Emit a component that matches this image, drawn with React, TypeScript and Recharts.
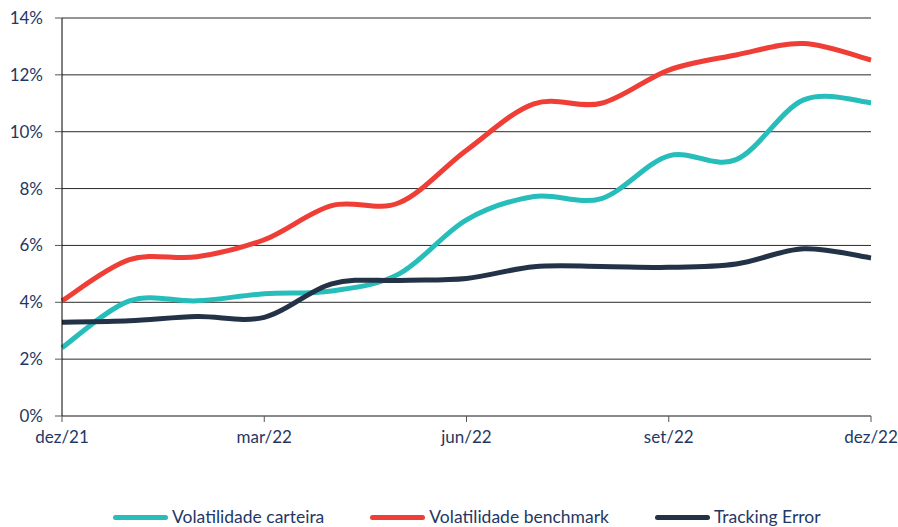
import React from 'react';
import { LineChart, Line, XAxis, YAxis, CartesianGrid, Legend } from 'recharts';

const months = ['dez/21', 'jan/22', 'fev/22', 'mar/22', 'abr/22', 'mai/22', 'jun/22', 'jul/22', 'ago/22', 'set/22', 'out/22', 'nov/22', 'dez/22'];
const volCarteira = [2.4, 4.05, 4.05, 4.3, 4.4, 5.0, 6.9, 7.72, 7.65, 9.15, 9.02, 11.12, 11.02];
const volBenchmark = [4.05, 5.5, 5.6, 6.2, 7.4, 7.5, 9.35, 10.98, 11.0, 12.17, 12.7, 13.1, 12.52];
const trackingError = [3.3, 3.35, 3.5, 3.47, 4.65, 4.77, 4.84, 5.25, 5.26, 5.23, 5.35, 5.88, 5.56];
const yTicks = [0, 2, 4, 6, 8, 10, 12, 14];

const seriesNames = ['Volatilidade carteira', 'Volatilidade benchmark', 'Tracking Error'];
const colors = ['#27bdbb', '#ef3e36', '#233246'];

const data = months.map((m, i) => ({
  month: m,
  carteira: volCarteira[i],
  benchmark: volBenchmark[i],
  te: trackingError[i],
}));

// Catmull-Rom style smoothing (like spreadsheet "smoothed line")
const smoothCurve = (context: any) => {
  let pts: [number, number][] = [];
  return {
    areaStart() {},
    areaEnd() {},
    lineStart() { pts = []; },
    point(x: number, y: number) { pts.push([+x, +y]); },
    lineEnd() {
      const n = pts.length;
      if (!n) return;
      context.moveTo(pts[0][0], pts[0][1]);
      for (let i = 0; i < n - 1; i++) {
        const p0 = pts[i - 1] || pts[i];
        const p1 = pts[i];
        const p2 = pts[i + 1];
        const p3 = pts[i + 2] || p2;
        const c1x = p1[0] + (p2[0] - p0[0]) / 6;
        const c1y = p1[1] + (p2[1] - p0[1]) / 6;
        const c2x = p2[0] - (p3[0] - p1[0]) / 6;
        const c2y = p2[1] - (p3[1] - p1[1]) / 6;
        context.bezierCurveTo(c1x, c1y, c2x, c2y, p2[0], p2[1]);
      }
    },
  };
};

const FONT = 'Lato, "Open Sans", sans-serif';
const TEXT = '#1f3864';

const LegendContent = () => (
  <div style={{ display: 'flex', justifyContent: 'flex-start', paddingLeft: 113, fontFamily: FONT, fontSize: 17.5, color: TEXT, lineHeight: '22px' }}>
    {seriesNames.map((n, i) => (
      <div key={n} style={{ display: 'flex', alignItems: 'center', marginLeft: i === 0 ? 0 : 46 }}>
        <div style={{ width: 55, height: 5, borderRadius: 3, background: colors[i], marginRight: 4 }} />
        <span>{n}</span>
      </div>
    ))}
  </div>
);

export default function App() {
  return (
    <div style={{ position: 'absolute', left: 0, top: 0, width: 898, height: 527, background: '#fff' }}>
      <LineChart width={898} height={527} data={data} margin={{ top: 18, right: 27, left: 0, bottom: 59 }}>
        <CartesianGrid vertical={false} stroke="#2a2a2a" strokeWidth={1} />
        <XAxis
          dataKey="month"
          interval={2}
          height={30}
          axisLine={{ stroke: '#8a8a8a', strokeWidth: 2 }}
          tickLine={{ stroke: '#555' }}
          tickSize={6}
          tickMargin={9}
          tick={{ fill: TEXT, fontSize: 17, fontFamily: FONT }}
        />
        <YAxis
          domain={[0, 14]}
          ticks={yTicks}
          width={62}
          tickFormatter={(v: number) => `${v}%`}
          axisLine={{ stroke: '#000' }}
          tickLine={{ stroke: '#555' }}
          tickSize={7}
          tickMargin={12}
          tick={{ fill: TEXT, fontSize: 17, fontFamily: FONT }}
        />
        <Legend content={<LegendContent />} wrapperStyle={{ top: 506, left: 0, width: 898 }} />
        <Line type={smoothCurve as any} dataKey="carteira" name={seriesNames[0]} stroke={colors[0]} strokeWidth={5} dot={false} isAnimationActive={false} />
        <Line type={smoothCurve as any} dataKey="benchmark" name={seriesNames[1]} stroke={colors[1]} strokeWidth={5} dot={false} isAnimationActive={false} />
        <Line type={smoothCurve as any} dataKey="te" name={seriesNames[2]} stroke={colors[2]} strokeWidth={5} dot={false} isAnimationActive={false} />
      </LineChart>
    </div>
  );
}
